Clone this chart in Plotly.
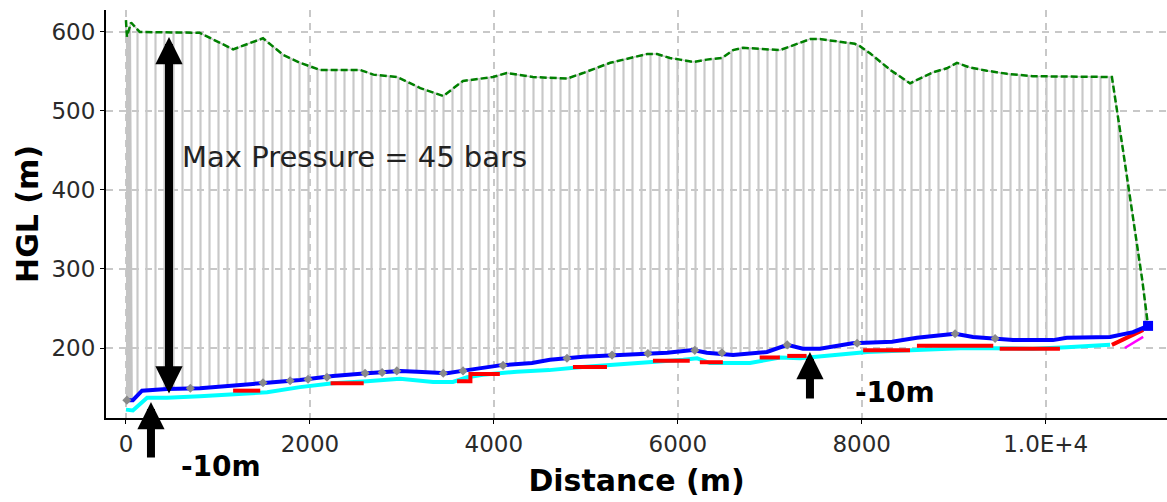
import plotly.graph_objects as go

# ---- data ----
# Max HGL envelope (green dashed)
max_x = [0, 10, 55, 150, 800, 950, 1165, 1350, 1490, 1710, 1893, 2110, 2370, 2545, 2690, 2950,
         3200, 3450, 3665, 3850, 3990, 4140, 4425, 4795, 4970, 5265, 5405, 5665, 5775, 5915,
         6025, 6165, 6315, 6480, 6600, 6710, 7110, 7295, 7440, 7545, 7690, 7925, 7980, 8090,
         8310, 8525, 8775, 8925, 9035, 9175, 9360, 9580, 9860, 10720, 10840, 11050, 11113]
max_hgl = [615, 594, 612, 600, 599, 590, 578, 586, 592, 571, 561, 552, 552, 552, 546, 543,
           529, 519, 538, 541, 543, 548, 543, 541, 548, 561, 565, 572, 572, 567,
           565, 562, 565, 567, 577, 580, 577, 585, 591, 591, 589, 585, 582, 573,
           552, 535, 549, 554, 561, 555, 551, 547, 544, 543, 451, 286, 228]

# HGL (blue)
hgl_x = [0, 75, 175, 445, 805, 1165, 1535, 1892, 2250, 2620, 2980, 3165, 3490, 3710, 4065,
         4415, 4610, 4970, 5340, 5885, 6165, 6315, 6600, 6970, 7190, 7360, 7545, 7900, 8330,
         8600, 9015, 9210, 9645, 10080, 10230, 10700, 10950, 11113]
hgl = [134, 134, 146, 148, 149, 152, 156, 159.5, 164.5, 168, 171, 170, 168, 172, 178,
       181, 185, 189, 191, 194, 197.5, 194, 191, 195, 204, 199, 199, 206, 208,
       213, 218, 214, 210, 210, 213, 214, 220, 228]

# Pipe profile (cyan)
prof_x = [0, 75, 230, 445, 805, 1165, 1535, 1892, 2250, 2620, 2980, 3340, 3555, 3710, 3880,
          4250, 4600, 4960, 5230, 5780, 6060, 6210, 6350, 6785, 7110, 7330, 7870, 8060, 9140,
          9860, 10230, 10700]
prof = [122, 121, 137, 137, 139, 142, 144, 150.5, 155.5, 158, 161, 157, 157, 163, 166,
        170, 172, 176, 178, 182, 185, 187, 181, 181, 188, 187, 193, 195, 200,
        199, 201, 204]

# Red profile segments (None = gap)
red_x = [1165, 1460, None, 2225, 2585, None, 3600, 3745, 3745, 4065, None, 4860, 5230, None,
         5730, 6130, None, 6240, 6490, None, 6890, 7110, None, 7190, 7400, None,
         8015, 8525, None, 8600, 9430, None, 9500, 10155, None, 10720, 11060]
red_y = [146, 146, None, 155.5, 155.5, None, 158, 158, 167, 167, None, 176, 176, None,
         184, 184, None, 182, 182, None, 188, 188, None, 190, 190, None,
         197, 197, None, 203, 203, None, 199, 199, None, 204, 223]

# Magenta segment at the end
mag_x = [10860, 11060]
mag_y = [200, 214]

# Gray node markers on the HGL
node_x = [10, 700, 1490, 1785, 1980, 2185, 2600, 2785, 2945, 3450, 3665, 4100, 4795, 5285,
          5675, 6185, 6480, 7190, 7950, 9015, 9450]
node_hgl = [134, 149, 156, 158.5, 160.5, 163, 168, 169, 171, 168, 171, 178, 187, 191,
            193, 197, 194, 204, 206, 218, 212]

end_x = [11113]
end_hgl = [228]

# dense nodes at the start (thick gray block)
block_x = [0, 10, 55]

x_ticks = [0, 2000, 4000, 6000, 8000, 10000]
x_tick_text = ["0", "2000", "4000", "6000", "8000", "1.0E+4"]
y_ticks = [200, 300, 400, 500, 600]

GRAY = "#c8c8c8"
fig = go.Figure()

# fill between HGL and max envelope with vertical hatching
fig.add_trace(go.Scatter(x=hgl_x, y=hgl, mode="lines", line=dict(width=0, color=GRAY),
                         showlegend=False, hoverinfo="skip"))
fig.add_trace(go.Scatter(x=max_x, y=max_hgl, mode="lines", line=dict(width=1.5, color=GRAY),
                         fill="tonexty", fillcolor="rgba(0,0,0,0)",
                         fillpattern=dict(shape="|", fgcolor=GRAY, bgcolor="rgba(0,0,0,0)",
                                          size=9, solidity=0.24, fillmode="replace"),
                         showlegend=False, hoverinfo="skip"))

# thick block near the start
blk_low_x = [d for d in hgl_x if d <= 75][:2]
blk_low = [v for d, v in zip(hgl_x, hgl) if d <= 75][:2]
fig.add_trace(go.Scatter(x=blk_low_x, y=blk_low, mode="lines", line=dict(width=0),
                         showlegend=False, hoverinfo="skip"))
blk_hi_x = [d for d in max_x if d in block_x]
blk_hi = [v for d, v in zip(max_x, max_hgl) if d in block_x]
fig.add_trace(go.Scatter(x=blk_hi_x, y=blk_hi, mode="lines", line=dict(width=0),
                         fill="tonexty", fillcolor="#c4c4c4",
                         showlegend=False, hoverinfo="skip"))

# max envelope dashed green
fig.add_trace(go.Scatter(x=max_x, y=max_hgl, mode="lines",
                         line=dict(width=2.5, color="#008000", dash="7px,3px"),
                         showlegend=False))

# profile lines
fig.add_trace(go.Scatter(x=prof_x, y=prof, mode="lines",
                         line=dict(width=4, color="#00ffff"), showlegend=False))
fig.add_trace(go.Scatter(x=red_x, y=red_y, mode="lines", connectgaps=False,
                         line=dict(width=4, color="#ff0000"), showlegend=False))
fig.add_trace(go.Scatter(x=mag_x, y=mag_y, mode="lines",
                         line=dict(width=2.5, color="#ff00ff"), showlegend=False))

# HGL blue
fig.add_trace(go.Scatter(x=hgl_x, y=hgl, mode="lines",
                         line=dict(width=4, color="#0000ff"), showlegend=False))
fig.add_trace(go.Scatter(x=node_x, y=node_hgl, mode="markers",
                         marker=dict(symbol="diamond", size=7, color="#8a8a8a"),
                         showlegend=False))
fig.add_trace(go.Scatter(x=end_x, y=end_hgl, mode="markers",
                         marker=dict(symbol="square", size=10, color="#0000ff"),
                         showlegend=False))

ann_font = dict(family="DejaVu Sans", size=29, color="#222222")
bold_font = dict(family="DejaVu Sans", size=28, color="#000000", weight="bold")

fig.update_layout(
    width=1167, height=502,
    margin=dict(l=106, r=0, t=10, b=84),
    paper_bgcolor="white", plot_bgcolor="white",
    showlegend=False,
    xaxis=dict(range=[-217, 11319], tickvals=x_ticks, ticktext=x_tick_text,
               showgrid=True, gridcolor=GRAY, griddash="7px,6px", gridwidth=1.5,
               zeroline=False, showline=True, linecolor="black", linewidth=2,
               ticks="outside", ticklen=4, tickcolor="black",
               tickfont=dict(family="DejaVu Sans", size=23, color="#2a2a2a"),
               title=dict(text="Distance (m)", standoff=14,
                          font=dict(family="DejaVu Sans", size=30, color="black", weight="bold"))),
    yaxis=dict(range=[111.4, 627.8], tickvals=y_ticks,
               showgrid=True, gridcolor=GRAY, griddash="7px,6px", gridwidth=1.5,
               zeroline=False, showline=True, linecolor="black", linewidth=2,
               ticks="outside", ticklen=4, tickcolor="black",
               tickfont=dict(family="DejaVu Sans", size=23, color="#2a2a2a"),
               title=dict(text="HGL (m)", standoff=4,
                          font=dict(family="DejaVu Sans", size=30, color="black", weight="bold"))),
    annotations=[
        dict(x=468, y=593.7, ax=468, ay=140.5, xref="x", yref="y", axref="x", ayref="y",
             text="", showarrow=True, arrowside="end+start", arrowhead=2, startarrowhead=2,
             arrowwidth=8, arrowsize=0.68, startarrowsize=0.68, arrowcolor="black"),
        dict(x=272, y=131.6, ax=0, ay=57, xref="x", yref="y", text="", showarrow=True,
             arrowhead=2, arrowwidth=8, arrowsize=0.68, arrowcolor="black"),
        dict(x=7437, y=195, ax=0, ay=48, xref="x", yref="y", text="", showarrow=True,
             arrowhead=2, arrowwidth=8, arrowsize=0.68, arrowcolor="black"),
        dict(x=587, y=441.8, xref="x", yref="y", text="Max Pressure = 45 bars",
             showarrow=False, xanchor="left", yanchor="middle", font=ann_font),
        dict(x=0.0692, y=-0.12, xref="paper", yref="paper", text="-10m",
             showarrow=False, xanchor="left", yanchor="middle", font=bold_font),
        dict(x=7905, y=144.3, xref="x", yref="y", text="-10m",
             showarrow=False, xanchor="left", yanchor="middle", font=bold_font),
    ],
)

fig.write_html("out.html")
